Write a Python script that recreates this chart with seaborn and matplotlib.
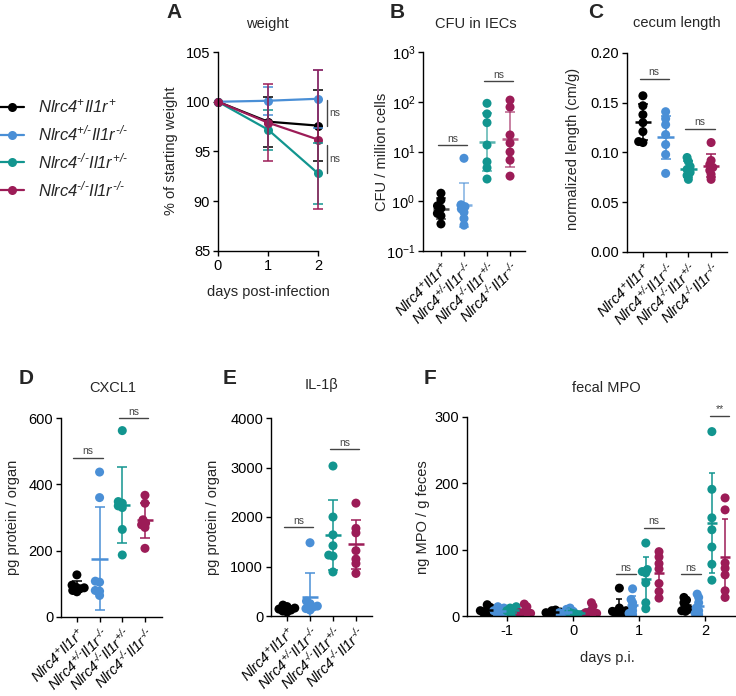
import numpy as np
import pandas as pd
import matplotlib
matplotlib.use("Agg")
import matplotlib.pyplot as plt
from matplotlib.lines import Line2D
from matplotlib.ticker import LogLocator, NullLocator, FormatStrFormatter
import seaborn as sns

# ---------------- data ----------------
groups = ["Nlrc4+Il1r+", "Nlrc4+/-Il1r-/-", "Nlrc4-/-Il1r+/-", "Nlrc4-/-Il1r-/-"]
group_labels = [r"$\mathit{Nlrc4}^{\text{+}}\mathit{Il1r}^{\text{+}}$",
                r"$\mathit{Nlrc4}^{\text{+/-}}\mathit{Il1r}^{\text{-/-}}$",
                r"$\mathit{Nlrc4}^{\text{-/-}}\mathit{Il1r}^{\text{+/-}}$",
                r"$\mathit{Nlrc4}^{\text{-/-}}\mathit{Il1r}^{\text{-/-}}$"]
colors = ["#000000", "#4a8fd6", "#12958f", "#9c1c57"]

# A: weight (mean, SD)
weight_days = [0, 1, 2]
weight_mean_wt = [100, 98.0, 97.6]
weight_sd_wt = [0, 2.5, 3.6]
weight_mean_het = [100, 100.1, 100.3]
weight_sd_het = [0, 1.4, 2.9]
weight_mean_kohet = [100, 97.2, 92.8]
weight_sd_kohet = [0, 2.0, 3.1]
weight_mean_dko = [100, 97.9, 96.2]
weight_sd_dko = [0, 3.9, 7.0]

# B: CFU in IECs
cfu_wt = [1.45, 1.06, 0.81, 0.72, 0.57, 0.51, 0.35]
cfu_het = [7.3, 0.85, 0.78, 0.70, 0.60, 0.45, 0.33]
cfu_kohet = [93, 57, 38, 13.5, 6.2, 4.7, 2.8]
cfu_dko = [108, 78, 21.5, 14.8, 9.8, 6.7, 3.2]

# C: cecum length
cecum_wt = [0.157, 0.147, 0.138, 0.130, 0.121, 0.111, 0.110]
cecum_het = [0.141, 0.134, 0.128, 0.118, 0.108, 0.098, 0.079]
cecum_kohet = [0.095, 0.091, 0.086, 0.083, 0.080, 0.077, 0.073]
cecum_dko = [0.110, 0.092, 0.088, 0.085, 0.082, 0.078, 0.073]

# D: CXCL1
cxcl1_wt = [127, 96, 90, 88, 85, 80, 76]
cxcl1_het = [437, 360, 108, 105, 80, 78, 65]
cxcl1_kohet = [562, 348, 343, 335, 330, 264, 187]
cxcl1_dko = [367, 343, 293, 283, 278, 270, 207]

# E: IL-1b
il1b_wt = [220, 190, 160, 140, 120, 100, 80]
il1b_het = [1480, 300, 250, 200, 180, 150, 120]
il1b_kohet = [3030, 2000, 1640, 1420, 1230, 1210, 890]
il1b_dko = [2280, 1770, 1680, 1320, 1150, 1060, 860]

# F: fecal MPO, one list per day (-1, 0, 1, 2)
mpo_days = ["-1", "0", "1", "2"]
mpo_wt = [[17, 13, 10, 8, 6, 5, 4], [9, 8, 6, 5, 4, 3, 3],
          [42, 12, 8, 7, 5, 4, 3], [28, 24, 20, 15, 10, 8, 7]]
mpo_het = [[14, 12, 10, 8, 6, 5, 3], [12, 10, 7, 5, 4, 3, 2],
           [41, 25, 20, 14, 8, 4, 2], [33, 28, 20, 12, 8, 4, 2]]
mpo_kohet = [[14, 12, 10, 8, 7, 5, 4], [7, 6, 5, 4, 3, 3, 2],
             [110, 70, 67, 65, 50, 20, 11], [278, 191, 148, 130, 104, 78, 54]]
mpo_dko = [[18, 14, 8, 5, 4, 3, 3], [20, 15, 8, 5, 4, 3, 3],
           [97, 89, 79, 71, 49, 37, 27], [178, 160, 80, 72, 62, 38, 28]]

# ---------------- style ----------------
sns.set_theme(style="ticks")
plt.rcParams["font.family"] = ["Liberation Sans", "DejaVu Sans"]
plt.rcParams["mathtext.fontset"] = "custom"
plt.rcParams["mathtext.rm"] = "Liberation Sans:italic"
plt.rcParams["mathtext.it"] = "Liberation Sans:italic"
plt.rcParams["mathtext.bf"] = "Liberation Sans:bold"
plt.rcParams["axes.linewidth"] = 1.0
plt.rcParams["xtick.major.width"] = 1.0
plt.rcParams["ytick.major.width"] = 1.0
plt.rcParams["xtick.major.size"] = 3.6
plt.rcParams["ytick.major.size"] = 3.6
plt.rcParams["axes.edgecolor"] = "black"
plt.rcParams["xtick.color"] = "black"
plt.rcParams["ytick.color"] = "black"

W, H = 736, 696
fig = plt.figure(figsize=(W / 100, H / 100), dpi=100)

FS = 10.5
TICKFS = 10.5
CATFS = 9.5
NSFS = 7.5
BR = "#444444"
DOT = 6.5
swarm_colls = []


def add_ax(l, t, r, b):
    return fig.add_axes([l / W, 1 - b / H, (r - l) / W, (b - t) / H])


def style(ax):
    sns.despine(ax=ax)
    ax.tick_params(labelsize=TICKFS, pad=2)


def ftext(x, y, s, **kw):
    fig.text(x / W, 1 - y / H, s, ha="center", va="center", **kw)


def bracket(ax, x1, x2, y, txt):
    ax.plot([x1, x2], [y, y], color=BR, lw=1.0, clip_on=False)
    ax.annotate(txt, xy=((x1 + x2) / 2, y), xytext=(0, 1.0),
                textcoords="offset points", ha="center", va="bottom",
                fontsize=NSFS, color=BR, annotation_clip=False)


def remember_swarm(ax, n_before):
    swarm_colls.extend(ax.collections[n_before:])


def cat_panel(ax, lists, log=False, alpha=1.0):
    df = pd.DataFrame({"group": np.repeat(groups, [len(v) for v in lists]),
                       "val": np.concatenate(lists)})
    if log:
        ax.set_yscale("log")
    n0 = len(ax.collections)
    sns.swarmplot(data=df, x="group", y="val", hue="group", order=groups,
                  hue_order=groups, palette=colors, size=3.0, linewidth=0,
                  legend=False, ax=ax, warn_thresh=1, zorder=2)
    remember_swarm(ax, n0)
    for i, (vals, c) in enumerate(zip(lists, colors)):
        v = np.array(vals, dtype=float)
        if log:
            lv = np.log10(v)
            m, s = lv.mean(), lv.std(ddof=1)
            mean = 10 ** m
            err = [[mean - 10 ** (m - s)], [10 ** (m + s) - mean]]
        else:
            mean = v.mean()
            err = [[v.std(ddof=1)], [v.std(ddof=1)]]
        ax.errorbar(i, mean, yerr=err, fmt="none", ecolor=c, elinewidth=1.1,
                    capsize=3.6, capthick=1.1, alpha=alpha, zorder=4)
        ax.hlines(mean, i - 0.36, i + 0.36, color=c, lw=1.8, alpha=alpha, zorder=4)
    ax.set_xlabel("")
    ax.set_ylabel("")
    ax.set_xticks(range(4))
    ax.set_xticklabels(group_labels, rotation=45, ha="right",
                       rotation_mode="anchor", fontsize=CATFS)
    style(ax)


# ---------------- A ----------------
axA = add_ax(218, 52, 318, 251)
means = [weight_mean_wt, weight_mean_het, weight_mean_kohet, weight_mean_dko]
sds = [weight_sd_wt, weight_sd_het, weight_sd_kohet, weight_sd_dko]
dfA = pd.DataFrame({"day": np.tile(weight_days, 4),
                    "w": np.concatenate(means),
                    "group": np.repeat(groups, 3)})
sns.lineplot(data=dfA, x="day", y="w", hue="group", hue_order=groups,
             palette=colors, marker="o", markersize=DOT, markeredgewidth=0,
             linewidth=1.6, legend=False, ax=axA, errorbar=None)
for m, s, c in zip(means, sds, colors):
    axA.errorbar(weight_days[1:], m[1:], yerr=s[1:], fmt="none", ecolor=c,
                 elinewidth=1.1, capsize=3.6, capthick=1.1, clip_on=False)
for ln in axA.lines:
    ln.set_clip_on(False)
for coll in axA.collections:
    coll.set_clip_on(False)
axA.set_xlim(0, 2)
axA.set_ylim(85, 105)
axA.set_xticks([0, 1, 2])
axA.set_yticks([85, 90, 95, 100, 105])
axA.set_xlabel("")
axA.set_ylabel("")
style(axA)
for (y1, y2) in [(100.2, 97.6), (95.7, 92.8)]:
    axA.plot([2.18, 2.18], [y1, y2], color=BR, lw=1.0, clip_on=False)
    axA.text(2.23, (y1 + y2) / 2, "ns", fontsize=NSFS, color=BR,
             ha="left", va="center", clip_on=False)
ftext(267, 24, "weight", fontsize=FS)
ftext(171, 151, "% of starting weight", fontsize=FS, rotation=90)
ftext(268, 292, "days post-infection", fontsize=FS)
ftext(174, 13, "A", fontsize=15, fontweight="bold")

# legend
handles = [Line2D([0], [0], color=c, marker="o", markersize=DOT,
                  markeredgewidth=0, lw=1.6) for c in colors]
fig.legend(handles, group_labels, loc="upper left",
           bbox_to_anchor=(0.0, 1 - 97.5 / H), frameon=False, fontsize=12,
           handlelength=1.45, handletextpad=0.85, labelspacing=0.48,
           borderpad=0, borderaxespad=0)

# ---------------- B ----------------
axB = add_ax(423, 52, 525, 251)
cat_panel(axB, [cfu_wt, cfu_het, cfu_kohet, cfu_dko], log=True, alpha=0.7)
axB.set_ylim(0.1, 1000)
axB.yaxis.set_major_locator(LogLocator(base=10, numticks=10))
axB.yaxis.set_minor_locator(NullLocator())
axB.set_xlim(-0.78, 3.65)
bracket(axB, -0.13, 1.13, 13.5, "ns")
bracket(axB, 1.87, 3.13, 261, "ns")
ftext(476, 24, "CFU in IECs", fontsize=FS)
ftext(382, 152, "CFU / million cells", fontsize=FS, rotation=90)
ftext(397, 13, "B", fontsize=15, fontweight="bold")

# ---------------- C ----------------
axC = add_ax(627, 53, 727, 252)
cat_panel(axC, [cecum_wt, cecum_het, cecum_kohet, cecum_dko])
axC.set_ylim(0, 0.2)
axC.set_yticks([0, 0.05, 0.10, 0.15, 0.20])
axC.yaxis.set_major_formatter(FormatStrFormatter("%.2f"))
axC.set_xlim(-0.70, 3.70)
bracket(axC, -0.15, 1.15, 0.174, "ns")
bracket(axC, 1.85, 3.15, 0.124, "ns")
ftext(677, 23, "cecum length", fontsize=FS)
ftext(573, 149, "normalized length (cm/g)", fontsize=FS, rotation=90)
ftext(596, 12, "C", fontsize=15, fontweight="bold")

# ---------------- D ----------------
axD = add_ax(61, 418, 162, 617)
cat_panel(axD, [cxcl1_wt, cxcl1_het, cxcl1_kohet, cxcl1_dko])
axD.set_ylim(0, 600)
axD.set_yticks([0, 200, 400, 600])
axD.set_xlim(-0.70, 3.75)
bracket(axD, -0.15, 1.15, 480, "ns")
bracket(axD, 1.85, 3.15, 600, "ns")
ftext(113, 388, "CXCL1", fontsize=FS)
ftext(13, 517, "pg protein / organ", fontsize=FS, rotation=90)
ftext(26, 378, "D", fontsize=15, fontweight="bold")

# ---------------- E ----------------
axE = add_ax(271, 418, 372, 616)
cat_panel(axE, [il1b_wt, il1b_het, il1b_kohet, il1b_dko])
axE.set_ylim(0, 4000)
axE.set_yticks([0, 1000, 2000, 3000, 4000])
axE.set_xlim(-0.70, 3.70)
bracket(axE, -0.15, 1.15, 1790, "ns")
bracket(axE, 1.85, 3.15, 3370, "ns")
ftext(322, 385, "IL-1β", fontsize=FS)
ftext(213, 517, "pg protein / organ", fontsize=FS, rotation=90)
ftext(230, 378, "E", fontsize=15, fontweight="bold")

# ---------------- F ----------------
axF = add_ax(467, 417, 735, 616)
mpo_all = [mpo_wt, mpo_het, mpo_kohet, mpo_dko]
rows = []
for g, lists in zip(groups, mpo_all):
    for d, vals in zip(mpo_days, lists):
        for v in vals:
            rows.append((g, d, v))
dfF = pd.DataFrame(rows, columns=["group", "day", "mpo"])
n0 = len(axF.collections)
sns.swarmplot(data=dfF, x="day", y="mpo", hue="group", order=mpo_days,
              hue_order=groups, palette=colors, dodge=True, size=2.6,
              linewidth=0, legend=False, ax=axF, warn_thresh=1, zorder=2)
remember_swarm(axF, n0)
offsets = [-0.3, -0.1, 0.1, 0.3]
for lists, c, off in zip(mpo_all, colors, offsets):
    for di, vals in enumerate(lists):
        v = np.array(vals, dtype=float)
        x = di + off
        axF.errorbar(x, v.mean(), yerr=v.std(ddof=1), fmt="none", ecolor=c,
                     elinewidth=1.1, capsize=2.5, capthick=1.1, zorder=4)
        axF.hlines(v.mean(), x - 0.08, x + 0.08, color=c, lw=1.8, zorder=4)
axF.set_ylim(0, 300)
axF.set_yticks([0, 100, 200, 300])
axF.set_xlim(-0.606, 3.45)
axF.set_xticks(range(4))
axF.set_xticklabels(mpo_days)
axF.set_xlabel("")
axF.set_ylabel("")
style(axF)
bracket(axF, 2 - 0.35, 2 - 0.05, 63, "ns")
bracket(axF, 2 + 0.07, 2 + 0.37, 133, "ns")
bracket(axF, 3 - 0.37, 3 - 0.07, 63, "ns")
bracket(axF, 3 + 0.07, 3 + 0.36, 302, "**")
ftext(606, 388, "fecal MPO", fontsize=FS)
ftext(423, 517, "ng MPO / g feces", fontsize=FS, rotation=90)
ftext(607, 658, "days p.i.", fontsize=FS)
ftext(430, 378, "F", fontsize=15, fontweight="bold")

# place swarms with compact spacing, then draw dots at full size (overlapping
# like the original scatter)
fig.canvas.draw()
for coll in swarm_colls:
    if "draw" in coll.__dict__:
        del coll.draw
    coll.set_sizes([DOT ** 2])

fig.savefig("out.png", dpi=100)
